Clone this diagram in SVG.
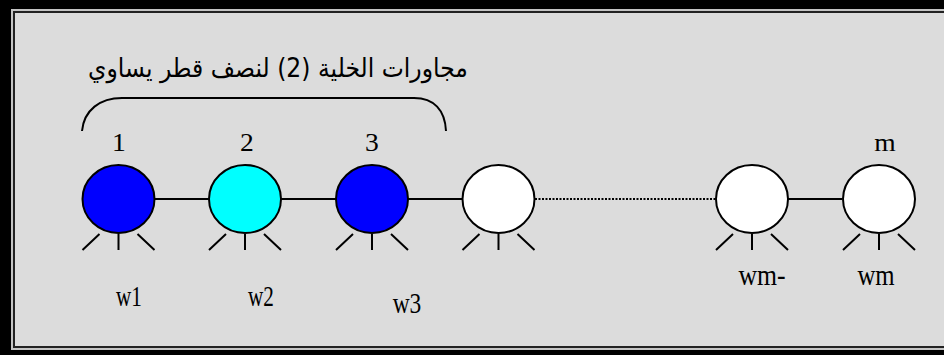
<svg xmlns="http://www.w3.org/2000/svg" width="944" height="355" viewBox="0 0 944 355">
<style>
.cell{stroke:#000;stroke-width:2}
.leg{stroke:#000;stroke-width:2;fill:none}
.lbl{font-family:"Liberation Serif","Times New Roman",serif;font-size:24px;fill:#000;text-anchor:middle}
.w{font-family:"Liberation Serif","Times New Roman",serif;font-size:23px;fill:#000;text-anchor:middle}
.con{stroke:#000;stroke-width:2;fill:none}
.dot{stroke:#000;stroke-width:2;fill:none;stroke-dasharray:2 1.5}
</style>
<defs>
<g id="legs"><path class="leg" d="M-19 35 L-36 51 M0 35 L0 51 M19 35 L36 51"/></g>
</defs>
<g id="frame">
<rect width="944" height="355" fill="#000"/>
<rect x="11" y="9" width="940" height="341" fill="#c4c4c4"/>
<rect x="13" y="11" width="940" height="337" fill="#222"/>
<rect x="15" y="13" width="940" height="333" fill="#dcdcdc"/>
</g>
<g id="title">
<text transform="translate(278,77) scale(1,1.1)" font-family="'DejaVu Sans',sans-serif" font-size="23.5" text-anchor="middle" direction="rtl" unicode-bidi="embed">مجاورات الخلية  (2) لنصف قطر يساوي</text>
<path class="con" d="M82 131 C84 110 100 98 122 98 L414 98 C434 98 445 110 446 131"/>
</g>
<g id="connectors">
<line class="con" x1="155" y1="199" x2="209" y2="199"/>
<line class="con" x1="281" y1="199" x2="336" y2="199"/>
<line class="con" x1="408" y1="199" x2="462" y2="199"/>
<line class="dot" x1="535" y1="199" x2="716" y2="199"/>
<line class="con" x1="788" y1="199" x2="842" y2="199"/>
</g>
<g id="node1">
<ellipse class="cell" cx="118.5" cy="199" rx="36" ry="34" fill="#0000ff"/>
<use href="#legs" x="118.5" y="199"/>
<text class="lbl" transform="translate(119,151) scale(1.15,1.05)">1</text>
<text class="w" transform="translate(129,306) scale(0.92,1.3)">w1</text>
</g>
<g id="node2">
<ellipse class="cell" cx="245" cy="199" rx="36" ry="34" fill="#00ffff"/>
<use href="#legs" x="245" y="199"/>
<text class="lbl" transform="translate(247,151) scale(1.15,1.05)">2</text>
<text class="w" transform="translate(261,306) scale(0.92,1.3)">w2</text>
</g>
<g id="node3">
<ellipse class="cell" cx="372" cy="199" rx="36" ry="34" fill="#0000ff"/>
<use href="#legs" x="372" y="199"/>
<text class="lbl" transform="translate(372,151) scale(1.15,1.05)">3</text>
<text class="w" transform="translate(407,313) scale(1.02,1.3)">w3</text>
</g>
<g id="node4">
<ellipse class="cell" cx="498.5" cy="199" rx="36" ry="34" fill="#fff"/>
<use href="#legs" x="498.5" y="199"/>
</g>
<g id="node5">
<ellipse class="cell" cx="752" cy="199" rx="36" ry="34" fill="#fff"/>
<use href="#legs" x="752" y="199"/>
<text class="w" transform="translate(762,285) scale(1.12,1.3)">wm-</text>
</g>
<g id="node6">
<ellipse class="cell" cx="879" cy="199" rx="36" ry="34" fill="#fff"/>
<use href="#legs" x="879" y="199"/>
<text class="lbl" transform="translate(885,151) scale(1.15,1.05)">m</text>
<text class="w" transform="translate(876,285) scale(1.08,1.3)">wm</text>
</g>
</svg>
